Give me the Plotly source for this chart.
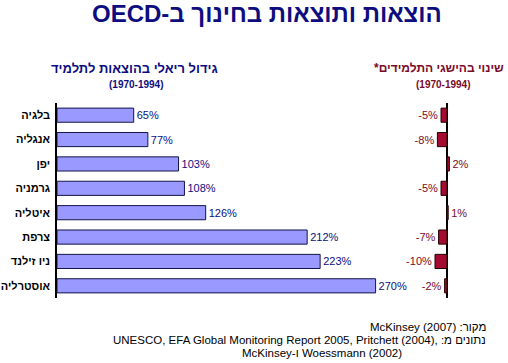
import plotly.graph_objects as go

W, H = 508, 363

countries = ["בלגיה", "אנגליה", "יפן", "גרמניה", "איטליה", "צרפת", "ניו זילנד", "אוסטרליה"]
spend_growth = [65, 77, 103, 108, 126, 212, 223, 270]
achieve_change = [-5, -8, 2, -5, 1, -7, -10, -2]

RLE, LRE, PDF = "\u202B", "\u202A", "\u202C"

title = "הוצאות ותוצאות בחינוך ב-OECD"
left_title = "גידול ריאלי בהוצאות לתלמיד"
right_title = "שינוי בהישגי התלמידים*"
period = "(1970-1994)"
src1 = "מקור: McKinsey (2007)"
src2 = "נתונים מ: " + LRE + "UNESCO, EFA Global Monitoring Report 2005, Pritchett (2004)," + PDF
src3 = "Woessmann (2002) ו-McKinsey"

NAVY = "#0d0d80"
DRED = "#7a0a28"
FONT = "Liberation Sans, Arial, sans-serif"

def px(x):
    return x / W

def py(y):
    return 1 - y / H

fig = go.Figure()
fig.add_trace(go.Bar(
    y=countries, x=spend_growth, orientation="h",
    marker=dict(color="#9999ff", line=dict(color="#14144a", width=1)),
    width=0.58,
    text=[f"{v}%" for v in spend_growth], texttemplate="%{text}",
    textposition="outside", cliponaxis=False,
    textfont=dict(color=NAVY, size=11, family=FONT),
    xaxis="x", yaxis="y", hoverinfo="skip",
))
fig.add_trace(go.Bar(
    y=countries, x=achieve_change, orientation="h",
    marker=dict(color="#a50a30", line=dict(color="#200000", width=1)),
    width=0.58,
    text=[f"{v}%" for v in achieve_change], texttemplate="%{text}",
    textposition="outside", cliponaxis=False,
    textfont=dict(color=DRED, size=11, family=FONT),
    xaxis="x2", yaxis="y2", hoverinfo="skip",
))

ydom = [py(298), py(103)]
fig.update_layout(
    width=W, height=H, margin=dict(l=0, r=0, t=0, b=0),
    paper_bgcolor="white", plot_bgcolor="rgba(0,0,0,0)",
    showlegend=False, font=dict(family=FONT),
    xaxis=dict(domain=[px(57), px(57 + 1.18 * 300)], range=[0, 300],
               visible=False, fixedrange=True),
    yaxis=dict(domain=ydom, autorange="reversed", anchor="x",
               showline=True, linecolor="black", linewidth=1.5,
               showgrid=False, ticks="", ticklabelstandoff=3,
               tickvals=countries, ticktext=[f"<b>{c}</b>" for c in countries],
               tickfont=dict(size=11, color="black", family=FONT)),
    xaxis2=dict(domain=[px(447 - 1.2 * 20), px(447 + 1.2 * 5)], range=[-20, 5],
                anchor="y2", showticklabels=False, showgrid=False, ticks="",
                zeroline=True, zerolinecolor="black", zerolinewidth=1.5, showline=False),
    yaxis2=dict(domain=ydom, autorange="reversed", anchor="x2",
                visible=False),
)

def ann(text, x, y, size, color, bold=False, xanchor="center"):
    t = f"<b>{text}</b>" if bold else text
    fig.add_annotation(text=RLE + t + PDF, x=px(x), y=py(y), xref="paper", yref="paper",
                       xanchor=xanchor, yanchor="middle", showarrow=False,
                       font=dict(size=size, color=color, family=FONT))

ann(title, 267, 14, 24, NAVY, bold=True)
ann(left_title, 134, 68, 13, NAVY, bold=True)
ann(period, 136, 84, 10, NAVY, bold=True)
ann(right_title, 506, 68, 12, DRED, bold=True, xanchor="right")
ann(period, 443, 84, 10, DRED, bold=True)
ann(src1, 488, 327, 11.5, "black", xanchor="right")
ann(src2, 488, 340, 11.5, "black", xanchor="right")
ann(src3, 404, 353, 11.5, "black", xanchor="right")

fig.write_html("out.html", config={"displayModeBar": False},
               post_script="document.body.style.margin='0';document.body.style.overflow='hidden';")
